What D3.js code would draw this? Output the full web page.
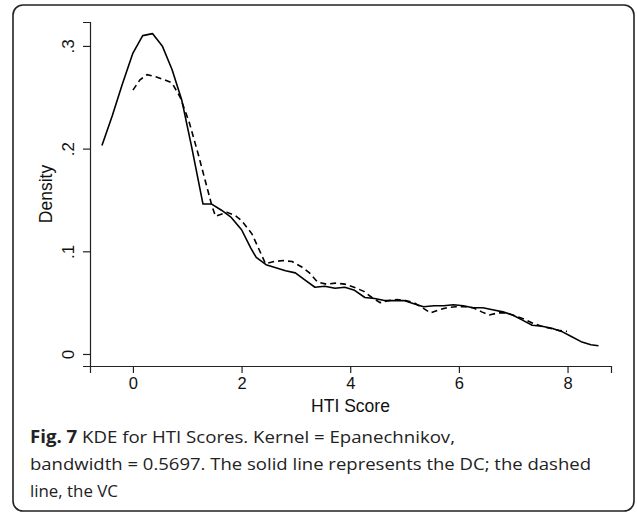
<!DOCTYPE html>
<html>
<head>
<meta charset="utf-8">
<script src="https://cdn.jsdelivr.net/npm/d3@7"></script>
<style>
  body { margin: 0; background: #fff; }
  svg { display: block; }
</style>
</head>
<body>
<script>
var width = 637,
    height = 514;

// KDE of HTI scores, solid line (DC)
var dcScore = [-0.57, -0.38, -0.20, 0.00, 0.18, 0.36, 0.54, 0.72, 0.90, 1.08, 1.29, 1.45, 1.63, 1.81, 2.00, 2.17, 2.27, 2.45, 2.63, 2.81, 2.99, 3.17, 3.35, 3.53, 3.72, 3.90, 4.08, 4.27, 4.45, 4.63, 4.81, 4.99, 5.17, 5.35, 5.54, 5.72, 5.90, 6.08, 6.26, 6.44, 6.62, 6.81, 6.99, 7.17, 7.35, 7.53, 7.71, 7.89, 8.07, 8.25, 8.43, 8.57];
var dcDensity = [0.203, 0.232, 0.262, 0.293, 0.310, 0.312, 0.300, 0.277, 0.247, 0.202, 0.146, 0.146, 0.140, 0.133, 0.121, 0.103, 0.094, 0.087, 0.084, 0.081, 0.079, 0.072, 0.065, 0.066, 0.064, 0.065, 0.062, 0.055, 0.054, 0.052, 0.052, 0.052, 0.049, 0.046, 0.047, 0.047, 0.048, 0.047, 0.045, 0.045, 0.043, 0.041, 0.038, 0.033, 0.028, 0.027, 0.025, 0.022, 0.017, 0.012, 0.009, 0.008];

// dashed line (VC)
var vcScore = [0.00, 0.13, 0.26, 0.42, 0.58, 0.72, 0.87, 1.04, 1.20, 1.36, 1.45, 1.52, 1.73, 1.88, 2.00, 2.19, 2.32, 2.44, 2.60, 2.77, 2.93, 3.10, 3.25, 3.40, 3.56, 3.73, 3.90, 4.07, 4.25, 4.40, 4.55, 4.71, 4.86, 5.02, 5.17, 5.33, 5.48, 5.63, 5.78, 5.94, 6.10, 6.26, 6.42, 6.56, 6.72, 6.88, 7.04, 7.20, 7.36, 7.52, 7.68, 7.84, 7.99];
var vcDensity = [0.257, 0.267, 0.272, 0.270, 0.267, 0.264, 0.250, 0.225, 0.195, 0.163, 0.145, 0.134, 0.138, 0.135, 0.130, 0.117, 0.102, 0.088, 0.090, 0.091, 0.090, 0.085, 0.079, 0.070, 0.068, 0.069, 0.068, 0.065, 0.061, 0.055, 0.050, 0.052, 0.053, 0.052, 0.050, 0.045, 0.040, 0.043, 0.045, 0.046, 0.046, 0.045, 0.041, 0.038, 0.040, 0.040, 0.037, 0.034, 0.030, 0.027, 0.025, 0.023, 0.022];

var xTicks = [0, 2, 4, 6, 8],
    yTicks = [0, 0.1, 0.2, 0.3];

var captionLines = [
    ["Fig. 7", " KDE for HTI Scores. Kernel = Epanechnikov,"],
    ["", "bandwidth = 0.5697. The solid line represents the DC; the dashed"],
    ["", "line, the VC"]
];

var svg = d3.select("body").append("svg")
    .attr("width", width)
    .attr("height", height);

// outer frame
svg.append("rect")
    .attr("x", 13).attr("y", 5)
    .attr("width", 621).attr("height", 506)
    .attr("rx", 10)
    .attr("fill", "#fff")
    .attr("stroke", "#222")
    .attr("stroke-width", 1.6);

var x = d3.scaleLinear().domain([-0.79, 8.8]).range([90, 611]);
var y = d3.scaleLinear().domain([-0.0117, 0.3233]).range([366, 22]);

var axisFont = "'Liberation Sans', Arial, Helvetica, sans-serif";

var xAxis = svg.append("g")
    .attr("transform", "translate(0,366)")
    .call(d3.axisBottom(x).tickValues(xTicks).tickSizeOuter(0).tickSize(7).tickPadding(4).tickFormat(d3.format("d")));
xAxis.selectAll("text")
    .style("font-family", axisFont)
    .style("font-size", "16.5px")
    .attr("fill", "#111");

var yAxis = svg.append("g")
    .attr("transform", "translate(90,0)")
    .call(d3.axisLeft(y).tickValues(yTicks).tickSizeOuter(0).tickSize(7)
        .tickFormat(function(d) { return d === 0 ? "0" : d3.format(".1f")(d).replace("0.", "."); }));
yAxis.selectAll("text")
    .attr("transform", "rotate(-90)")
    .attr("x", 0)
    .attr("y", -16)
    .attr("dy", 0)
    .attr("text-anchor", "middle")
    .style("font-family", axisFont)
    .style("font-size", "17px")
    .attr("fill", "#111");

svg.selectAll(".domain, .tick line")
    .attr("stroke", "#222")
    .attr("stroke-width", 1.2);

svg.append("text")
    .attr("x", 350.5)
    .attr("y", 412)
    .attr("text-anchor", "middle")
    .style("font-family", axisFont)
    .style("font-size", "17.5px")
    .attr("fill", "#111")
    .text("HTI Score");

svg.append("text")
    .attr("transform", "translate(52,194) rotate(-90)")
    .attr("text-anchor", "middle")
    .style("font-family", axisFont)
    .style("font-size", "17.5px")
    .attr("fill", "#111")
    .text("Density");

var line = d3.line()
    .x(function(d) { return x(d[0]); })
    .y(function(d) { return y(d[1]); });

svg.append("path")
    .datum(d3.zip(dcScore, dcDensity))
    .attr("d", line)
    .attr("fill", "none")
    .attr("stroke", "#000")
    .attr("stroke-width", 1.6)
    .attr("stroke-linejoin", "round");

svg.append("path")
    .datum(d3.zip(vcScore, vcDensity))
    .attr("d", line)
    .attr("fill", "none")
    .attr("stroke", "#000")
    .attr("stroke-width", 1.6)
    .attr("stroke-dasharray", "6,4");

// caption
var captionWidths = [425, 561, 88];
var caption = svg.append("g")
    .style("font-family", "'Open Sans', 'Noto Sans', sans-serif")
    .style("font-size", "17px")
    .attr("fill", "#222");

captionLines.forEach(function(parts, i) {
    var t = caption.append("text")
        .attr("x", 30)
        .attr("y", 443 + i * 27)
        .attr("textLength", captionWidths[i])
        .attr("lengthAdjust", "spacingAndGlyphs");
    if (parts[0]) t.append("tspan").style("font-weight", "bold").text(parts[0]);
    t.append("tspan").text(parts[1]);
});
</script>
</body>
</html>
